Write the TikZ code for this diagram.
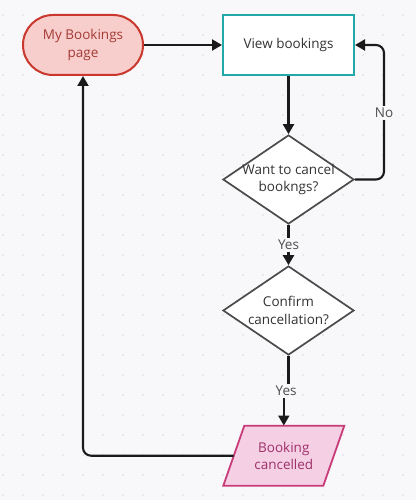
\documentclass[tikz,border=0pt]{standalone}
\usepackage{fontspec}
\setmainfont{Open Sans}
\usetikzlibrary{arrows.meta,shapes.geometric,calc}
\definecolor{bgc}{HTML}{F8F8FB}
\definecolor{dotc}{HTML}{DADADF}
\definecolor{linec}{HTML}{1A1A1A}
\definecolor{redfill}{HTML}{F8CECC}
\definecolor{reddraw}{HTML}{C9372D}
\definecolor{redtext}{HTML}{A33A35}
\definecolor{tealdraw}{HTML}{20A9A8}
\definecolor{txt}{HTML}{333333}
\definecolor{lbltxt}{HTML}{4D4D4D}
\definecolor{dgray}{HTML}{4A4A4A}
\definecolor{pinkfill}{HTML}{F5D0E5}
\definecolor{pinkdraw}{HTML}{C73B78}
\definecolor{pinktext}{HTML}{9E3068}
\tikzset{
  startbox/.style={rectangle, rounded corners=30pt, draw=reddraw, fill=redfill, line width=2pt,
    minimum width=120pt, minimum height=60pt, text=redtext, align=center, inner sep=0pt},
  procbox/.style={rectangle, draw=tealdraw, fill=white, line width=2pt,
    minimum width=131pt, minimum height=60pt, text=txt, align=center, inner sep=0pt},
  decbox/.style={diamond, draw=dgray, fill=white, line width=1.7pt,
    minimum width=131pt, minimum height=89pt, inner sep=0pt},
  dectext/.style={align=center, text=txt},
  ioshape/.style={draw=pinkdraw, fill=pinkfill, line width=1.8pt, line join=miter},
  iotext/.style={rectangle, minimum width=100pt, minimum height=60pt, text=pinktext, align=center, inner sep=0pt},
  conn/.style={draw=linec, line width=2.1pt, -{Triangle[length=10pt,width=11pt]}},
  lbl/.style={fill=bgc, text=lbltxt, inner sep=2pt}
}
\begin{document}
\begin{tikzpicture}[x=1pt,y=-1pt, font=\fontsize{13.5}{17.5}\selectfont]
\fill[bgc] (0,0) rectangle (416,500);
\useasboundingbox (0,0) rectangle (416,500);
\foreach \i in {0,...,20}{
  \foreach \j in {0,...,24}{
    \fill[dotc] (3+20*\i, 15+20*\j) circle (0.9pt);
  }
}
\node[startbox] (mb) at (83,45) {My Bookings\\page};
\node[procbox] (vb) at (288.5,45) {View bookings};
\node[decbox, label={[dectext]center:{Want to cancel\\bookngs?}}] (d1) at (288.5,179.5) {};
\node[decbox, label={[dectext]center:{Confirm\\cancellation?}}] (d2) at (288.5,310.5) {};
\coordinate (bcc) at (283.8,455.7);
\draw[ioshape] ($(bcc)+(-60.5,30)$) -- ($(bcc)+(-39.5,-30)$) -- ($(bcc)+(60.5,-30)$) -- ($(bcc)+(39.5,30)$) -- cycle;
\node[iotext] (bc) at (bcc) {Booking\\cancelled};

\draw[conn] (mb.east) -- (vb.west);
\draw[conn] (vb.south) -- (d1.north);
\draw[conn, rounded corners=8pt] (d1.east) -| ($(vb.east)+(29,0)$) -- (vb.east);
\node[lbl] (no) at (384,113) {No};
\draw[conn] (d1.south) -- (d2.north) node[midway, lbl] (yes1) {Yes};
\draw[conn] (d2.south) |- ($(d2.south)!0.5!(bc.north)$) -| (bc.north);
\node[lbl] (yes2) at ($(d2.south)!0.5!(bc.north)$) {Yes};
\draw[conn, rounded corners=8pt] (bc.west) -| (mb.south);
\end{tikzpicture}
\end{document}
